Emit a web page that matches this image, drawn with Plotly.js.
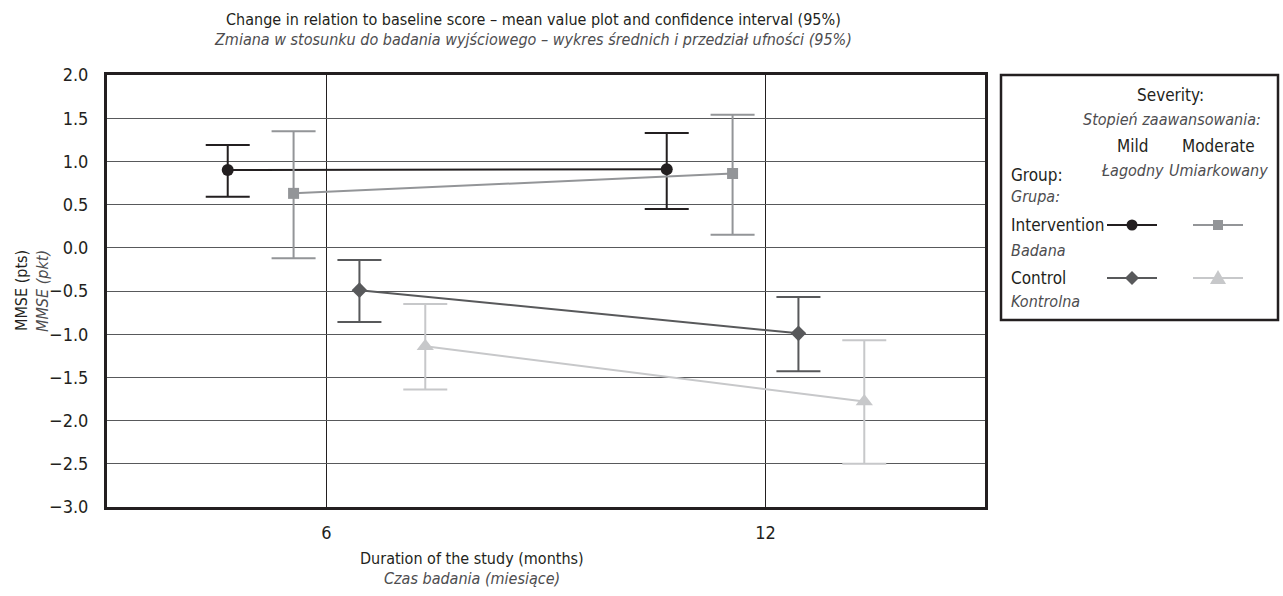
<!DOCTYPE html>
<html>
<head>
<meta charset="utf-8">
<script src="https://cdn.plot.ly/plotly-3.0.1.min.js"></script>
<style>
  html, body { margin: 0; padding: 0; background: #ffffff; }
  #chart { width: 1283px; height: 596px; }
</style>
</head>
<body>
<div id="chart"></div>
<script>
// Study time points (months)
const durations = [6, 12];

// Mean change in MMSE and 95% confidence limits, per group and severity
const interventionMildMean = [0.90, 0.91];
const interventionMildLow  = [0.59, 0.45];
const interventionMildHigh = [1.19, 1.33];

const interventionModerateMean = [0.63, 0.86];
const interventionModerateLow  = [-0.12, 0.15];
const interventionModerateHigh = [1.35, 1.54];

const controlMildMean = [-0.49, -0.99];
const controlMildLow  = [-0.86, -1.43];
const controlMildHigh = [-0.14, -0.57];

const controlModerateMean = [-1.14, -1.78];
const controlModerateLow  = [-1.64, -2.50];
const controlModerateHigh = [-0.65, -1.07];

const yTicks = [2.0, 1.5, 1.0, 0.5, 0.0, -0.5, -1.0, -1.5, -2.0, -2.5, -3.0];

const FONT = '"Liberation Sans Narrow", "DejaVu Sans Condensed", "Arial Narrow", sans-serif';
const INK = '#231f20';
const SOFT = '#4d4d4f';

// Plot frame in pixels, used to place the legend panel in paper units
const FIG_W = 1283, FIG_H = 596;
const M = { l: 107, r: 298, t: 75, b: 89 };
const PW = FIG_W - M.l - M.r, PH = FIG_H - M.t - M.b;
const px = x => (x - M.l) / PW;
const py = y => (FIG_H - M.b - y) / PH;

function series(mean, low, high, offset, color, symbol, size) {
  return {
    type: 'scatter',
    mode: 'lines+markers',
    x: durations.map(d => d + offset),
    y: mean,
    line: { color: color, width: 2 },
    marker: { color: color, symbol: symbol, size: size },
    error_y: {
      type: 'data', symmetric: false,
      array: high.map((h, i) => h - mean[i]),
      arrayminus: mean.map((m, i) => m - low[i]),
      color: color, thickness: 2, width: 22
    },
    showlegend: false,
    hoverinfo: 'x+y'
  };
}

const C_IM = '#231f20', C_IMod = '#939598', C_CM = '#58595b', C_CMod = '#c7c8ca';

const traces = [
  series(interventionMildMean, interventionMildLow, interventionMildHigh, -1.35, C_IM, 'circle', 12),
  series(interventionModerateMean, interventionModerateLow, interventionModerateHigh, -0.45, C_IMod, 'square', 11),
  series(controlMildMean, controlMildLow, controlMildHigh, 0.45, C_CM, 'diamond', 12),
  series(controlModerateMean, controlModerateLow, controlModerateHigh, 1.35, C_CMod, 'triangle-up', 15)
];

// Legend panel
const shapes = [
  { type: 'rect', xref: 'paper', yref: 'paper', x0: px(1001), x1: px(1278), y0: py(75), y1: py(320),
    line: { color: INK, width: 2.5 }, fillcolor: 'rgba(0,0,0,0)' }
];
function sample(cx, cy, color, kind) {
  shapes.push({ type: 'line', xref: 'paper', yref: 'paper', x0: px(cx - 25), x1: px(cx + 25), y0: py(cy), y1: py(cy),
    line: { color: color, width: 2 } });
  const r = 5.5;
  if (kind === 'circle') {
    shapes.push({ type: 'circle', xref: 'paper', yref: 'paper', x0: px(cx - r), x1: px(cx + r), y0: py(cy + r), y1: py(cy - r),
      fillcolor: color, line: { width: 0 } });
  } else if (kind === 'square') {
    shapes.push({ type: 'rect', xref: 'paper', yref: 'paper', x0: px(cx - 5), x1: px(cx + 5), y0: py(cy + 5), y1: py(cy - 5),
      fillcolor: color, line: { width: 0 } });
  } else if (kind === 'diamond') {
    const d = 7;
    shapes.push({ type: 'path', xref: 'paper', yref: 'paper',
      path: `M ${px(cx - d)} ${py(cy)} L ${px(cx)} ${py(cy - d)} L ${px(cx + d)} ${py(cy)} L ${px(cx)} ${py(cy + d)} Z`,
      fillcolor: color, line: { width: 0 } });
  } else {
    shapes.push({ type: 'path', xref: 'paper', yref: 'paper',
      path: `M ${px(cx - 8)} ${py(cy + 6)} L ${px(cx)} ${py(cy - 8)} L ${px(cx + 8)} ${py(cy + 6)} Z`,
      fillcolor: color, line: { width: 0 } });
  }
}
sample(1132, 225, C_IM, 'circle');
sample(1218, 225, C_IMod, 'square');
sample(1132, 278, C_CM, 'diamond');
sample(1218, 278, C_CMod, 'triangle');

const annotations = [];
function note(text, x, y, opts) {
  annotations.push(Object.assign({
    text: text, xref: 'paper', yref: 'paper', x: px(x), y: py(y),
    xanchor: 'center', yanchor: 'middle', showarrow: false,
    font: { family: FONT, size: 16, color: INK }
  }, opts || {}));
}
const soft = { family: FONT, size: 16, color: SOFT };

note('Severity:', 1170, 95, { font: { family: FONT, size: 17, color: INK } });
note('<i>Stopień zaawansowania:</i>', 1172, 119, { font: soft });
note('Mild', 1132, 146, { font: { family: FONT, size: 17, color: INK } });
note('Moderate', 1218, 146, { font: { family: FONT, size: 17, color: INK } });
note('<i>Łagodny</i>', 1132, 170, { font: soft });
note('<i>Umiarkowany</i>', 1218, 170, { font: soft });
note('Group:', 1009, 175, { xanchor: 'left', font: { family: FONT, size: 17, color: INK } });
note('<i>Grupa:</i>', 1009, 196, { xanchor: 'left', font: soft });
note('Intervention', 1009, 225, { xanchor: 'left', font: { family: FONT, size: 17, color: INK } });
note('<i>Badana</i>', 1009, 250, { xanchor: 'left', font: soft });
note('Control', 1009, 278, { xanchor: 'left', font: { family: FONT, size: 17, color: INK } });
note('<i>Kontrolna</i>', 1009, 301, { xanchor: 'left', font: soft });

// Chart title and axis titles
note('Change in relation to baseline score – mean value plot and confidence interval (95%)', 533, 20);
note('<i>Zmiana w stosunku do badania wyjściowego – wykres średnich i przedział ufności (95%)</i>', 533, 40, { font: soft });
note('Duration of the study (months)', 472, 558);
note('<i>Czas badania (miesiące)</i>', 472, 578, { font: soft });
note('MMSE (pts)', 21, 291, { textangle: -90 });
note('<i>MMSE (pkt)</i>', 42, 291, { textangle: -90, font: soft });

const layout = {
  width: FIG_W, height: FIG_H,
  margin: M,
  paper_bgcolor: '#ffffff', plot_bgcolor: '#ffffff',
  font: { family: FONT, size: 18, color: INK },
  xaxis: {
    range: [3, 15], tickvals: durations, ticktext: durations.map(String),
    tickfont: { family: FONT, size: 18, color: INK },
    showgrid: true, gridcolor: INK, gridwidth: 1,
    showline: true, mirror: true, linecolor: INK, linewidth: 3,
    ticks: 'outside', ticklen: 7, tickcolor: 'rgba(0,0,0,0)',
    zeroline: false, fixedrange: true
  },
  yaxis: {
    range: [-3, 2], tickvals: yTicks, tickformat: '.1f',
    tickfont: { family: FONT, size: 18, color: INK },
    showgrid: true, gridcolor: '#58595b', gridwidth: 1,
    showline: true, mirror: true, linecolor: INK, linewidth: 3,
    ticks: 'outside', ticklen: 12, tickcolor: 'rgba(0,0,0,0)',
    zeroline: false, fixedrange: true
  },
  shapes: shapes,
  annotations: annotations,
  showlegend: false
};

Plotly.newPlot('chart', traces, layout, { displayModeBar: false, staticPlot: true });
</script>
</body>
</html>
